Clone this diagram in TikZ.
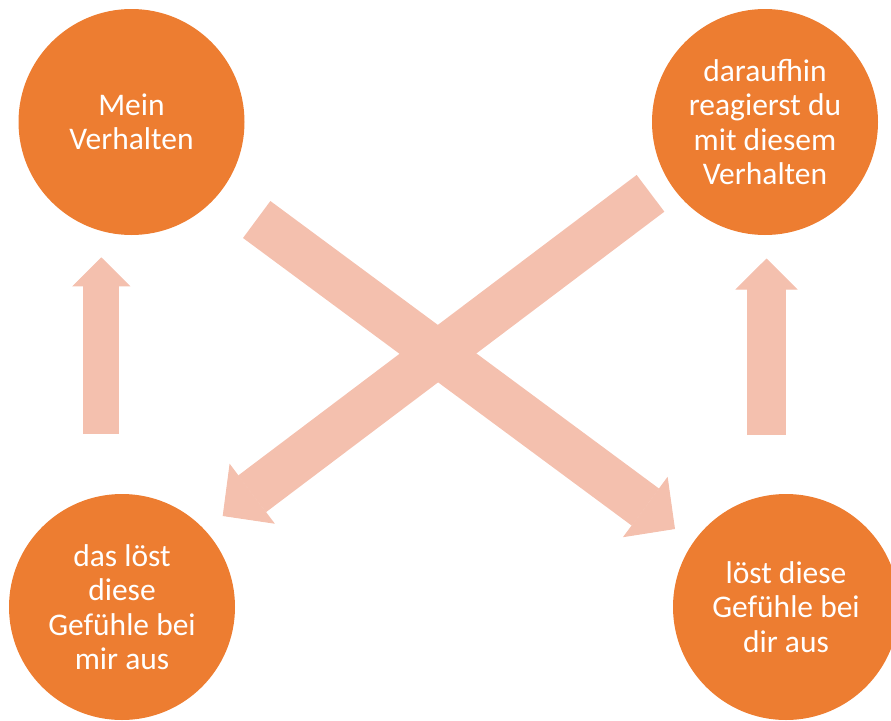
\documentclass[tikz,border=0pt]{standalone}
\usepackage{fontspec}
\setmainfont{Carlito}
\usepackage{xcolor}
\usetikzlibrary{arrows.meta}
\definecolor{kreis}{HTML}{ED7D31}
\definecolor{pfeil}{HTML}{F4C0AE}

\begin{document}
\begin{tikzpicture}
          [x=1pt, y=-1pt,
           every node/.style={circle, fill=kreis, text=white, minimum size=226pt, inner sep=0pt,
             align=center, font=\fontsize{31.5}{34.5}\selectfont},
           block/.style={draw=pfeil, line width=#1}]
          \clip (0,0) rectangle (891,720);
          \node (mein) at (131.5,122) {Mein\\Verhalten};
          \node (du) at (765,122) {daraufhin\\reagierst du\\mit diesem\\Verhalten};
          \node (mir) at (122,607) {das l\"ost\\diese\\Gef\"uhle bei\\mir aus};
          \node (dir) at (786,607) {l\"ost diese\\Gef\"uhle bei\\dir aus};

          \coordinate (mir-a) at (101.3,434);
          \coordinate (mein-a) at (101.3,257.3);
          \coordinate (dir-a) at (766.5,435);
          \coordinate (du-a) at (766.5,258.5);
          \coordinate (mein-b) at (256.7,219.5);
          \coordinate (dir-b) at (675,529);
          \coordinate (du-b) at (650.5,193.3);
          \coordinate (mir-b) at (222.7,516);

          \draw[block=36pt, -{Triangle[width=58pt, length=29pt, line width=1pt]}] (mir-a) -- (mein-a);
          \draw[block=39pt, -{Triangle[width=62pt, length=31pt, line width=1pt]}] (dir-a) -- (du-a);
          \draw[block=46pt, -{Triangle[width=75pt, length=37pt, line width=1pt]}] (mein-b) -- (dir-b);
          \draw[block=46pt, -{Triangle[width=75pt, length=37pt, line width=1pt]}] (du-b) -- (mir-b);
        \end{tikzpicture}
\end{document}
